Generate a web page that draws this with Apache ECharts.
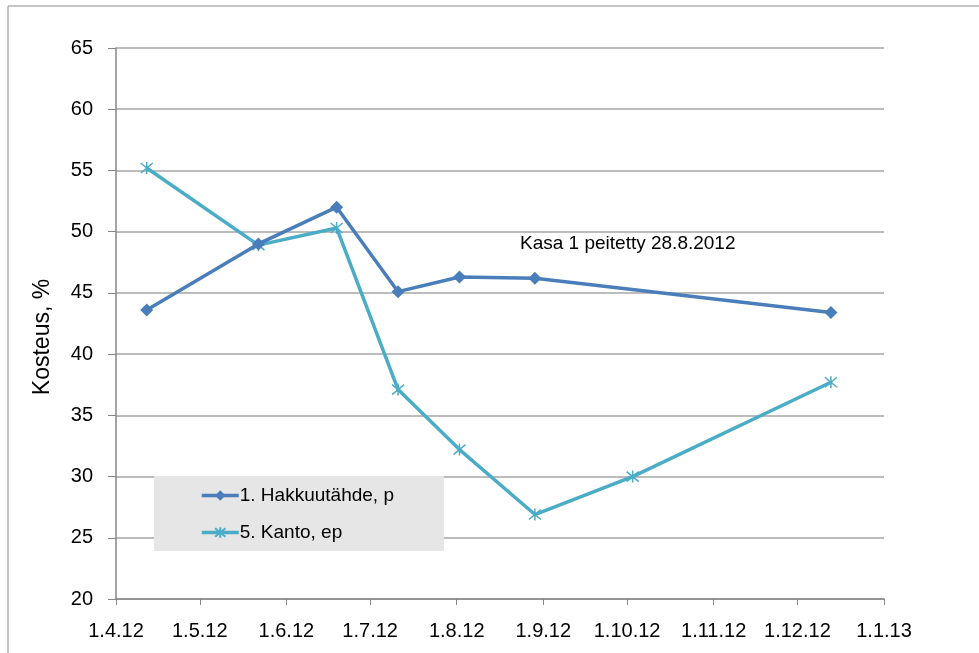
<!DOCTYPE html>
<html>
<head>
<meta charset="utf-8">
<script src="https://cdn.jsdelivr.net/npm/echarts@6/dist/echarts.min.js"></script>
<style>
  html, body { margin: 0; padding: 0; background: #fff; }
  #chart { width: 979px; height: 653px; }
</style>
</head>
<body>
<div id="chart"></div>
<script>
// mittauspäivät (pv.kk.vv)
var dates1 = ['12.4.12', '22.5.12', '19.6.12', '11.7.12', '2.8.12', '29.8.12', '13.12.12'];
var hakkuutahde = [43.6, 49.0, 52.0, 45.1, 46.3, 46.2, 43.4];
var dates2 = ['12.4.12', '22.5.12', '19.6.12', '11.7.12', '2.8.12', '29.8.12', '3.10.12', '13.12.12'];
var kanto = [55.2, 48.9, 50.3, 37.1, 32.2, 26.9, 30.0, 37.7];
var xTicks = ['1.4.12', '1.5.12', '1.6.12', '1.7.12', '1.8.12', '1.9.12', '1.10.12', '1.11.12', '1.12.12', '1.1.13'];
var yTicks = [20, 25, 30, 35, 40, 45, 50, 55, 60, 65];

// päiviä alkaen 1.4.12
function toDay(s) {
  var p = s.split('.');
  var t = Date.UTC(2000 + (+p[2]), +p[1] - 1, +p[0]);
  return Math.round((t - Date.UTC(2012, 3, 1)) / 86400000);
}
function pairs(ds, vs) {
  return ds.map(function (d, i) { return [toDay(d), vs[i]]; });
}
var tickDays = xTicks.map(toDay);
var labelByDay = {};
xTicks.forEach(function (t) { labelByDay[toDay(t)] = t; });

var font = '"Liberation Sans Narrow", "Liberation Sans", Arial, sans-serif';
var starPath = 'path://M0,0L10,10M10,0L0,10M5,-1L5,11';

var myChart = echarts.init(document.getElementById('chart'));
myChart.setOption({
  animation: false,
  textStyle: { fontFamily: font },
  grid: { left: 116, right: 95, top: 48, bottom: 54 },
  graphic: [
    {
      type: 'rect',
      shape: { x: 8, y: 6, width: 1100, height: 800 },
      style: { fill: 'none', stroke: '#8c8c8c', lineWidth: 1 },
      z: -1
    },
    {
      type: 'text',
      left: 520, top: 234,
      style: { text: 'Kasa 1 peitetty 28.8.2012', fontSize: 19, fontFamily: font, fill: '#000' }
    },
    {
      type: 'text',
      x: 43, y: 337,
      rotation: Math.PI / 2,
      style: {
        text: 'Kosteus, %', fontSize: 23, fontFamily: font, fill: '#000',
        align: 'center', verticalAlign: 'middle'
      }
    }
  ],
  legend: {
    orient: 'vertical',
    left: 154, top: 476,
    backgroundColor: '#e6e6e6',
    padding: [10, 50, 9, 46],
    itemGap: 18,
    itemWidth: 37,
    itemHeight: 13,
    textStyle: { fontSize: 19, fontFamily: font, color: '#000', padding: [0, 0, 0, -4] },
    data: [
      { name: '1. Hakkuutähde, p', lineStyle: { width: 3.5 } },
      { name: '5. Kanto, ep', lineStyle: { width: 3.5 } }
    ]
  },
  xAxis: {
    type: 'value',
    min: tickDays[0],
    max: tickDays[tickDays.length - 1],
    splitLine: { show: false },
    axisLine: { lineStyle: { color: '#868686', width: 1.5 } },
    axisTick: { show: true, length: 6, lineStyle: { color: '#868686' }, customValues: tickDays },
    axisLabel: {
      customValues: tickDays,
      fontSize: 20, color: '#000', margin: 22, fontFamily: font,
      formatter: function (v) { return labelByDay[v] || ''; }
    }
  },
  yAxis: {
    type: 'value',
    min: 20, max: 65, interval: 5,
    axisLine: { show: true, lineStyle: { color: '#868686', width: 1.5 } },
    axisTick: { show: true, length: 8, lineStyle: { color: '#868686' } },
    splitLine: { lineStyle: { color: '#a6a6a6', width: 1.5 } },
    axisLabel: {
      fontSize: 20, color: '#000', margin: 23, fontFamily: font,
      formatter: function (v) { return yTicks.indexOf(v) >= 0 ? String(v) : ''; }
    }
  },
  series: [
    {
      name: '1. Hakkuutähde, p',
      type: 'line',
      data: pairs(dates1, hakkuutahde),
      symbol: 'diamond',
      symbolSize: 13,
      color: '#4a7ebb',
      lineStyle: { width: 3.5, color: '#4a7ebb' },
      itemStyle: { color: '#4a7ebb' },
      z: 3
    },
    {
      name: '5. Kanto, ep',
      type: 'line',
      data: pairs(dates2, kanto),
      symbol: starPath,
      symbolSize: 12,
      color: '#4bacc6',
      lineStyle: { width: 3.5, color: '#4bacc6' },
      itemStyle: { color: 'rgba(0,0,0,0)', borderColor: '#4bacc6', borderWidth: 1.5 },
      z: 2
    }
  ]
});
</script>
</body>
</html>
